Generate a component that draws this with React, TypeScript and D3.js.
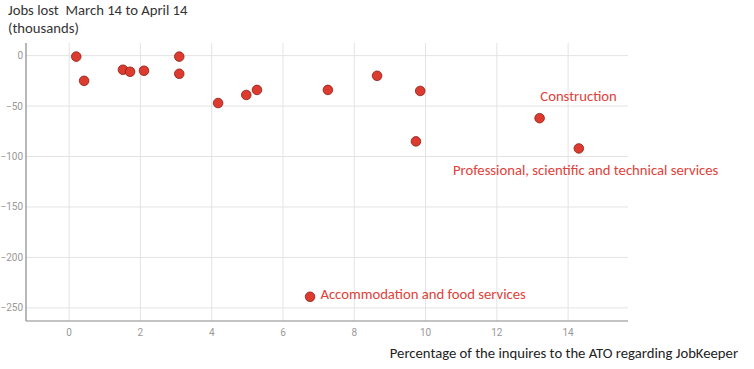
import React from "react";
import * as d3 from "d3";

const xValues = [0.2, 0.42, 1.51, 1.71, 2.1, 3.09, 3.09, 4.18, 4.97, 5.27, 7.26, 8.64, 9.85, 9.73, 13.2, 14.3, 6.76];
const yValues = [-1, -25, -14, -16, -15, -1, -18, -47, -39, -34, -34, -20, -35, -85, -62, -92, -239];
const xTicks = [0, 2, 4, 6, 8, 10, 12, 14];
const yTicks = [0, -50, -100, -150, -200, -250];
const annoLabels = ["Construction", "Professional, scientific and technical services", "Accommodation and food services"];
const annoX = [13.22, 10.77, 7.05];
const annoY = [-45, -118, -241];

const W = 754;
const H = 369;
const left = 26;
const right = 628;
const top = 43;
const bottom = 321;

export default function App() {
  const x = d3.scaleLinear().domain([-1.21, 15.68]).range([left, right]);
  const y = d3.scaleLinear().domain([-263, 12.5]).range([bottom, top]);
  const font = "Carlito, 'Open Sans', 'Noto Sans', sans-serif";
  const red = "#dd3b2f";
  return (
    <svg width={W} height={H} style={{ position: "absolute", left: 0, top: 0, background: "#fff" }}>
      {xTicks.map((t) => (
        <line key={"gx" + t} x1={x(t)} x2={x(t)} y1={top} y2={bottom} stroke="#e3e3e3" strokeWidth={1} />
      ))}
      {yTicks.map((t) => (
        <line key={"gy" + t} x1={left} x2={right} y1={y(t)} y2={y(t)} stroke="#e3e3e3" strokeWidth={1} />
      ))}
      <line x1={left} x2={left} y1={top} y2={bottom} stroke="#888" strokeWidth={1.2} />
      <line x1={left} x2={right} y1={bottom} y2={bottom} stroke="#888" strokeWidth={1.2} />
      {xTicks.map((t) => (
        <text key={"tx" + t} x={x(t)} y={336} textAnchor="middle" fontFamily="Roboto, sans-serif" fontSize={10} fill="#999">
          {t}
        </text>
      ))}
      {yTicks.map((t) => (
        <text key={"ty" + t} x={23} y={y(t) + 3.5} textAnchor="end" fontFamily="Roboto, sans-serif" fontSize={10} fill="#999">
          {t === 0 ? "0" : "\u2212" + Math.abs(t)}
        </text>
      ))}
      {xValues.map((v, i) => (
        <circle key={"p" + i} cx={x(v)} cy={y(yValues[i])} r={4.8} fill={red} stroke="#8a1d14" strokeWidth={0.8} />
      ))}
      {annoLabels.map((s, i) => (
        <text key={"a" + i} x={x(annoX[i])} y={y(annoY[i])} fontFamily={font} fontSize={14.7} fill="#e0413a">
          {s}
        </text>
      ))}
      <text x={8} y={15} fontFamily={font} fontSize={14.7} fill="#333">
        Jobs lost{"\u00a0\u00a0"}March 14 to April 14
      </text>
      <text x={8} y={33} fontFamily={font} fontSize={14.7} fill="#333">
        (thousands)
      </text>
      <text x={738} y={358} textAnchor="end" fontFamily={font} fontSize={14.7} fill="#222">
        Percentage of the inquires to the ATO regarding JobKeeper
      </text>
    </svg>
  );
}
